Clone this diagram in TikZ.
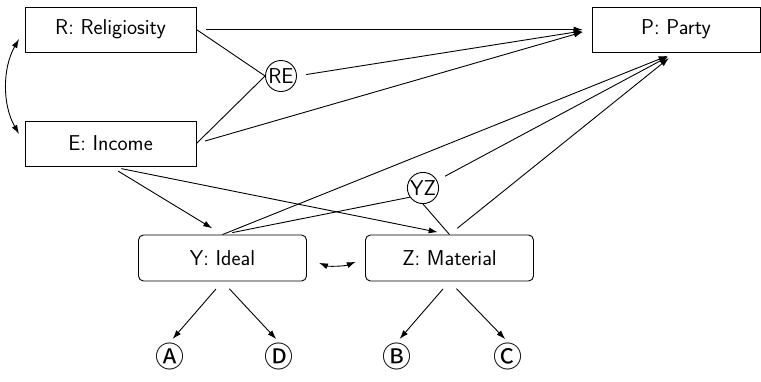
\documentclass[tikz,border=0pt]{standalone}
\usepackage{fontspec}
\newfontfamily\circledfont{Noto Sans CJK SC}
\usetikzlibrary{arrows.meta,calc}

\begin{document}
\begin{tikzpicture}[x=1pt,y=1pt,line width=0.9pt,
  font=\sffamily\fontsize{21.5}{25}\selectfont,
  box/.style={draw, minimum width=171pt, minimum height=45pt, inner sep=0pt},
  rbox/.style={box, rounded corners=5pt, minimum width=168pt, minimum height=46pt},
  junct/.style={draw, circle, inner sep=0.5pt, minimum size=31pt},
  leaf/.style={font=\circledfont\fontsize{29}{32}\selectfont, inner sep=0pt},
  tip/.tip={Latex[length=9pt,width=6pt]},
  arr/.style={-tip},
  darr/.style={tip-tip}
]
\useasboundingbox (0,0) rectangle (761,-381);

% variables
\node[box] (R) at (110.5,-29.5) {R: Religiosity};
\node[box] (E) at (110.5,-143.5) {E: Income};
\node[box, minimum width=168pt] (P) at (676,-29.5) {P: Party};
\node[rbox] (Y) at (222.5,-258) {Y: Ideal};
\node[rbox] (Z) at (449.5,-258) {Z: Material};

% interaction terms
\node[junct] (RE) at (281,-76) {RE};
\node[junct] (YZ) at (423,-188) {YZ};

% indicators
\node[leaf] (A) at (170,-356) {Ⓐ};
\node[leaf] (D) at (279,-356) {Ⓓ};
\node[leaf] (B) at (397,-356) {Ⓑ};
\node[leaf] (C) at (508,-356) {Ⓒ};

% paths into P
\draw[arr, shorten <=10pt, shorten >=9pt] (R.east) -- (P.west);
\draw[arr, shorten <=9pt, shorten >=9pt] (RE.east) -- (P.west);
\draw[arr, shorten <=9pt, shorten >=9pt] (E.east) -- (P.west);
\draw[arr, shorten >=9pt] (Y.north) -- (P.south);
\draw[arr, shorten <=9pt, shorten >=9pt] (YZ) -- (P.south);
\draw[arr, shorten <=10pt, shorten >=9pt] (Z.north) -- (P.south);

% interaction links
\draw (R.east) -- (RE.west);
\draw (E.east) -- (RE.west);
\draw[shorten <=10pt] (Y.north) -- (YZ.215);
\draw (Z.north) -- (YZ.south);

% income to mediators
\draw[arr, shorten <=9pt, shorten >=12pt] (E.south) -- (Y.north);
\draw[arr, shorten <=11pt, shorten >=12pt] (E.south) -- (Z.north);

% covariances
\draw[darr, shorten <=11pt, shorten >=11pt] (R.west) to[bend right=30] (E.west);
\draw[darr, shorten <=13pt, shorten >=10pt] (Y.east) to[bend right=22] (Z.west);

% measurement arrows
\draw[arr, shorten <=10pt, shorten >=4pt] (Y.south) -- (A.north);
\draw[arr, shorten <=10pt, shorten >=4pt] (Y.south) -- (D.north);
\draw[arr, shorten <=10pt, shorten >=4pt] (Z.south) -- (B.north);
\draw[arr, shorten <=10pt, shorten >=4pt] (Z.south) -- (C.north);
\end{tikzpicture}
\end{document}
